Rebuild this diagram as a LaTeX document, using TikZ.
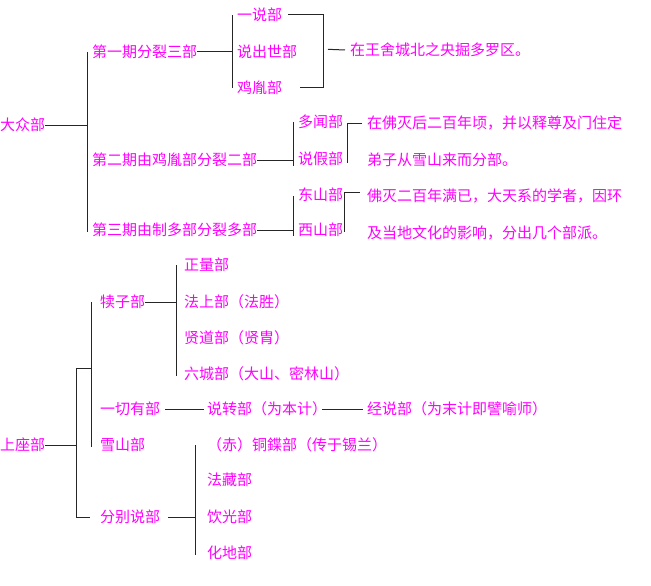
\documentclass[tikz,border=0pt]{standalone}
\usepackage{fontspec}
\setmainfont{Noto Sans CJK SC}
\usepackage{xcolor}
\usetikzlibrary{calc}
\definecolor{label}{HTML}{FF00FF}
\definecolor{line}{HTML}{262626}
\tikzset{
  br/.style={draw=line, line width=1pt},
  lab/.style={text=label, font=\fontsize{15}{15}\selectfont, anchor=west, inner sep=0pt,
    text height=12.5pt, text depth=1.5pt}
}

\begin{document}
\begin{tikzpicture}[x=1pt,y=-1pt]
  \useasboundingbox (0,0) rectangle (651,586);

  \node[lab] (dz) at (0,125) {大众部};
  \node[lab] (p1) at (92,52) {第一期分裂三部};
  \node[lab] (p2) at (92,160) {第二期由鸡胤部分裂二部};
  \node[lab] (p3) at (92,230) {第三期由制多部分裂多部};
  \node[lab] (ys) at (237,15) {一说部};
  \node[lab] (cs) at (237,52) {说出世部};
  \node[lab] (jy) at (237,88) {鸡胤部};
  \node[lab] (wsc) at (350,50) {在王舍城北之央掘多罗区。};
  \node[lab] (dw) at (298,122) {多闻部};
  \node[lab] (sj) at (298,159) {说假部};
  \node[lab] (n2a) at (367,123) {在佛灭后二百年顷，并以释尊及门住定};
  \node[lab] (n2b) at (367,160) {弟子从雪山来而分部。};
  \node[lab] (ds) at (298,195) {东山部};
  \node[lab] (xs) at (298,230) {西山部};
  \node[lab] (n3a) at (367,196) {佛灭二百年满已，大天系的学者，因环};
  \node[lab] (n3b) at (367,233) {及当地文化的影响，分出几个部派。};

  \coordinate (j0) at (87,125);
  \coordinate (j1) at (232,52);
  \coordinate (j2) at (293,160);
  \coordinate (j3) at (293,230);
  \coordinate (k1) at (323,15);
  \coordinate (k2) at (323,88);

  \draw[br] (dz.east) -- (j0);
  \draw[br] (j0 |- p1.west) -- ($(j0 |- p3.west)+(0,2)$);
  \draw[br] (p1.east) -- (j1);
  \draw[br] (j1 |- ys.west) -- (j1 |- jy.west);
  \draw[br] ([xshift=6pt]ys.east) -- (k1) -- (k2) -- ([xshift=18pt]jy.east);
  \draw[br] ($(k1)!0.47!(k2)+(5,0)$) -- ([xshift=-5pt]wsc.west);
  \draw[br] (p2.east) -- (j2);
  \draw[br] (j2 |- dw.west) -- ($(j2)+(0,6)$);
  \draw[br] ($(n2a.west)+(-5,0)$) -- ($(n2a.west)+(-20,0)$) -- ($(n2a.west)+(-20,40)$);
  \draw[br] (p3.east) -- (j3);
  \draw[br] ($(j3 |- ds.west)+(0,1)$) -- ($(j3)+(0,6)$);
  \draw[br] ($(n3a.west)+(-7,-4)$) -- ($(n3a.west)+(-23,-4)$) -- ($(n3a.west)+(-23,36)$);

  \node[lab] (sz) at (0,445) {上座部};
  \node[lab] (dzb) at (100,302) {犊子部};
  \node[lab] (zl) at (184,265) {正量部};
  \node[lab] (fs) at (184,302) {法上部（法胜）};
  \node[lab] (xd) at (184,338) {贤道部（贤胄）};
  \node[lab] (lc) at (184,374) {六城部（大山、密林山）};
  \node[lab] (yq) at (100,409) {一切有部};
  \node[lab] (szb) at (207,409) {说转部（为本计）};
  \node[lab] (jsb) at (367,409) {经说部（为末计即譬喻师）};
  \node[lab] (xsb) at (100,445) {雪山部};
  \node[lab] (fb) at (100,517) {分别说部};
  \node[lab] (tx) at (207,445) {（赤）铜鍱部（传于锡兰）};
  \node[lab] (fc) at (207,480) {法藏部};
  \node[lab] (yg) at (207,517) {饮光部};
  \node[lab] (hd) at (207,553) {化地部};

  \coordinate (s0) at (76,445);
  \coordinate (s1) at (91,368);
  \coordinate (s2) at (176,302);
  \coordinate (s3) at (195,517);

  \draw[br] (sz.east) -- (s0);
  \draw[br] (s0 |- s1) -- (s0 |- fb.west);
  \draw[br] (s0 |- s1) -- (s1);
  \draw[br] (s0 |- fb.west) -- ([xshift=-10pt]fb.west);
  \draw[br] (s1 |- dzb.west) -- ($(s1 |- xsb.west)+(0,2)$);
  \draw[br] (dzb.east) -- (s2);
  \draw[br] (s2 |- zl.west) -- ($(s2 |- lc.west)+(0,2)$);
  \draw[br] ([xshift=5pt]yq.east) -- ([xshift=-3pt]szb.west);
  \draw[br] ([xshift=-5pt]szb.east) -- ([xshift=-4pt]jsb.west);
  \draw[br] (fb.east) ++(8,0) -- (s3);
  \draw[br] (s3 |- tx.west) -- ($(s3 |- hd.west)+(0,2)$);
\end{tikzpicture}
\end{document}
